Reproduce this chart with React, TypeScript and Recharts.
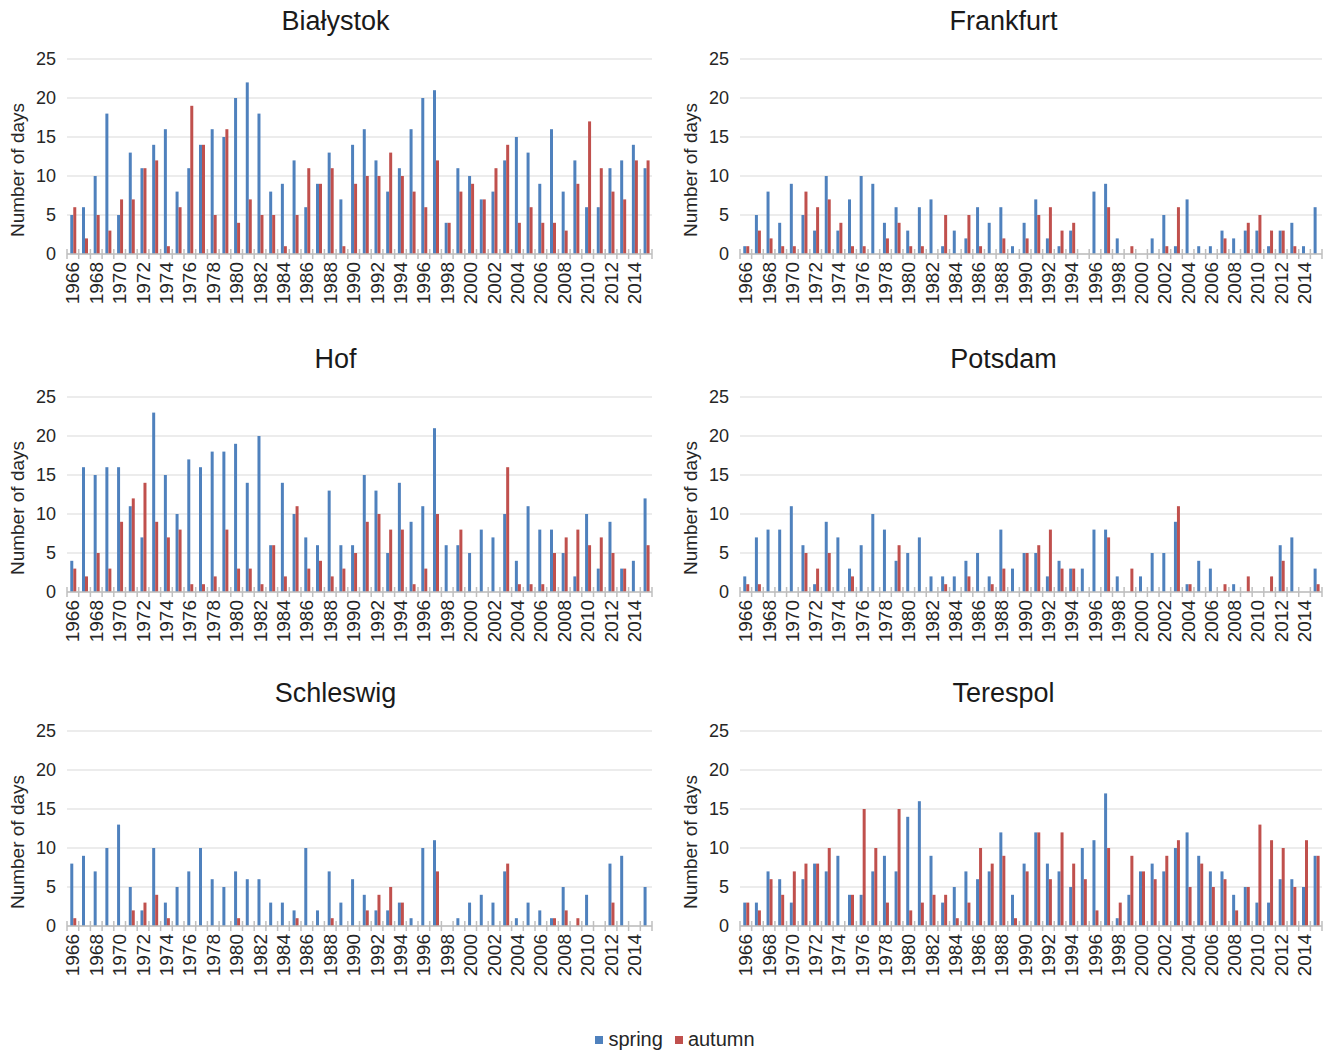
import { BarChart, Bar, XAxis, YAxis, CartesianGrid } from 'recharts';

const years = [
  1966, 1967, 1968, 1969, 1970, 1971, 1972, 1973, 1974, 1975,
  1976, 1977, 1978, 1979, 1980, 1981, 1982, 1983, 1984, 1985,
  1986, 1987, 1988, 1989, 1990, 1991, 1992, 1993, 1994, 1995,
  1996, 1997, 1998, 1999, 2000, 2001, 2002, 2003, 2004, 2005,
  2006, 2007, 2008, 2009, 2010, 2011, 2012, 2013, 2014, 2015,
];
const yTicks = [0, 5, 10, 15, 20, 25];

const bialystokSpring = [5, 6, 10, 18, 5, 13, 11, 14, 16, 8, 11, 14, 16, 15, 20, 22, 18, 8, 9, 12, 6, 9, 13, 7, 14, 16, 12, 8, 11, 16, 20, 21, 4, 11, 10, 7, 8, 12, 15, 13, 9, 16, 8, 12, 6, 6, 11, 12, 14, 11];
const bialystokAutumn = [6, 2, 5, 3, 7, 7, 11, 12, 1, 6, 19, 14, 5, 16, 4, 7, 5, 5, 1, 5, 11, 9, 11, 1, 9, 10, 10, 13, 10, 8, 6, 12, 4, 8, 9, 7, 11, 14, 4, 6, 4, 4, 3, 9, 17, 11, 8, 7, 12, 12];

const frankfurtSpring = [1, 5, 8, 4, 9, 5, 3, 10, 3, 7, 10, 9, 4, 6, 3, 6, 7, 1, 3, 2, 6, 4, 6, 1, 4, 7, 2, 1, 3, 0, 8, 9, 2, 0, 0, 2, 5, 1, 7, 1, 1, 3, 2, 3, 3, 1, 3, 4, 1, 6];
const frankfurtAutumn = [1, 3, 2, 1, 1, 8, 6, 7, 4, 1, 1, 0, 2, 4, 1, 1, 0, 5, 0, 5, 1, 0, 2, 0, 2, 5, 6, 3, 4, 0, 0, 6, 0, 1, 0, 0, 1, 6, 0, 0, 0, 2, 0, 4, 5, 3, 3, 1, 0, 0];

const hofSpring = [4, 16, 15, 16, 16, 11, 7, 23, 15, 10, 17, 16, 18, 18, 19, 14, 20, 6, 14, 10, 7, 6, 13, 6, 6, 15, 13, 5, 14, 9, 11, 21, 6, 6, 5, 8, 7, 10, 4, 11, 8, 8, 5, 2, 10, 3, 9, 3, 4, 12];
const hofAutumn = [3, 2, 5, 3, 9, 12, 14, 9, 7, 8, 1, 1, 2, 8, 3, 3, 1, 6, 2, 11, 3, 4, 2, 3, 5, 9, 10, 8, 8, 1, 3, 10, 0, 8, 0, 0, 0, 16, 1, 1, 1, 5, 7, 8, 6, 7, 5, 3, 0, 6];

const potsdamSpring = [2, 7, 8, 8, 11, 6, 1, 9, 7, 3, 6, 10, 8, 4, 5, 7, 2, 2, 2, 4, 5, 2, 8, 3, 5, 5, 2, 4, 3, 3, 8, 8, 2, 0, 2, 5, 5, 9, 1, 4, 3, 0, 1, 0, 0, 0, 6, 7, 0, 3];
const potsdamAutumn = [1, 1, 0, 0, 0, 5, 3, 5, 0, 2, 0, 0, 0, 6, 0, 0, 0, 1, 0, 2, 0, 1, 3, 0, 5, 6, 8, 3, 3, 0, 0, 7, 0, 3, 0, 0, 0, 11, 1, 0, 0, 1, 0, 2, 0, 2, 4, 0, 0, 1];

const schleswigSpring = [8, 9, 7, 10, 13, 5, 2, 10, 3, 5, 7, 10, 6, 5, 7, 6, 6, 3, 3, 2, 10, 2, 7, 3, 6, 4, 2, 2, 3, 1, 10, 11, 0, 1, 3, 4, 3, 7, 1, 3, 2, 1, 5, 0, 4, 0, 8, 9, 0, 5];
const schleswigAutumn = [1, 0, 0, 0, 0, 2, 3, 4, 1, 0, 0, 0, 0, 0, 1, 0, 0, 0, 0, 1, 0, 0, 1, 0, 0, 2, 4, 5, 3, 0, 0, 7, 0, 0, 0, 0, 0, 8, 0, 0, 0, 1, 2, 1, 0, 0, 3, 0, 0, 0];

const terespolSpring = [3, 3, 7, 6, 3, 6, 8, 7, 9, 4, 4, 7, 9, 7, 14, 16, 9, 3, 5, 7, 6, 7, 12, 4, 8, 12, 8, 7, 5, 10, 11, 17, 1, 4, 7, 8, 7, 10, 12, 9, 7, 7, 4, 5, 3, 3, 6, 6, 5, 9];
const terespolAutumn = [3, 2, 6, 4, 7, 8, 8, 10, 0, 4, 15, 10, 3, 15, 2, 3, 4, 4, 1, 3, 10, 8, 9, 1, 7, 12, 6, 12, 8, 6, 2, 10, 3, 9, 7, 6, 9, 11, 5, 8, 5, 6, 2, 5, 13, 11, 10, 5, 11, 9];

const BLUE = '#4F81BD';
const RED = '#C0504D';
const FONT = '"Liberation Sans", Arial, sans-serif';

const CHART_H = 330;
const AXIS_W = 67;

function YearTick(props: any) {
  const { x, y, payload, index, step } = props;
  const bx = x - step / 2;
  return (
    <g>
      <line x1={bx} y1={y - 5} x2={bx} y2={y + 5} stroke="#bfbfbf" strokeWidth={1.5} />
      {index === years.length - 1 && (
        <line x1={x + step / 2} y1={y - 5} x2={x + step / 2} y2={y + 5} stroke="#bfbfbf" strokeWidth={1.5} />
      )}
      {index % 2 === 0 && (
        <text
          x={0}
          y={0}
          transform={`translate(${x},${y + 8}) rotate(-90)`}
          textAnchor="end"
          dominantBaseline="central"
          fontSize={19}
          fontFamily={FONT}
          fill="#262626"
        >
          {payload.value}
        </text>
      )}
    </g>
  );
}

function YLabel() {
  return (
    <text
      x={0}
      y={0}
      transform="translate(17,170) rotate(-90)"
      textAnchor="middle"
      dominantBaseline="central"
      fontSize={19}
      fontFamily={FONT}
      fill="#262626"
    >
      Number of days
    </text>
  );
}

function Panel({ title, spring, autumn, left, top, width, marginRight }: any) {
  const data = years.map((y, i) => ({ year: y, spring: spring[i], autumn: autumn[i] }));
  const step = (width - AXIS_W - marginRight) / years.length;
  return (
    <div style={{ position: 'absolute', left, top, width, height: CHART_H }}>
      <div
        style={{
          position: 'absolute',
          left: 0,
          top: 6,
          width: width + 8,
          textAlign: 'center',
          fontFamily: FONT,
          fontSize: 27,
          color: '#1a1a1a',
        }}
      >
        {title}
      </div>
      <BarChart
        width={width}
        height={CHART_H}
        data={data}
        margin={{ top: 59, right: marginRight, bottom: 16, left: 0 }}
        barCategoryGap="28%"
        barGap={0}
      >
        <CartesianGrid vertical={false} stroke="#d9d9d9" strokeWidth={1.2} />
        <XAxis
          dataKey="year"
          interval={0}
          height={60}
          tickSize={0}
          tickMargin={0}
          tickLine={false}
          axisLine={{ stroke: '#bfbfbf', strokeWidth: 1.5 }}
          tick={(p: any) => <YearTick {...p} step={step} />}
        />
        <YAxis
          domain={[0, 25]}
          ticks={yTicks}
          width={AXIS_W}
          axisLine={false}
          tickLine={false}
          tickSize={0}
          tickMargin={11}
          tick={{ fontSize: 18, fill: '#262626', fontFamily: FONT }}
          label={<YLabel />}
        />
        <Bar dataKey="spring" fill={BLUE} isAnimationActive={false} />
        <Bar dataKey="autumn" fill={RED} isAnimationActive={false} />
      </BarChart>
    </div>
  );
}

export default function App() {
  const L = { left: 0, width: 663, marginRight: 11 };
  const R = { left: 673, width: 653, marginRight: 4 };
  return (
    <div style={{ position: 'absolute', left: 0, top: 0, width: 1326, height: 1054, background: '#fff' }}>
      <Panel title="Białystok" spring={bialystokSpring} autumn={bialystokAutumn} top={0} {...L} />
      <Panel title="Frankfurt" spring={frankfurtSpring} autumn={frankfurtAutumn} top={0} {...R} />
      <Panel title="Hof" spring={hofSpring} autumn={hofAutumn} top={338} {...L} />
      <Panel title="Potsdam" spring={potsdamSpring} autumn={potsdamAutumn} top={338} {...R} />
      <Panel title="Schleswig" spring={schleswigSpring} autumn={schleswigAutumn} top={672} {...L} />
      <Panel title="Terespol" spring={terespolSpring} autumn={terespolAutumn} top={672} {...R} />
      <div
        style={{
          position: 'absolute',
          top: 1028,
          left: 0,
          width: 1326,
          display: 'flex',
          justifyContent: 'center',
          gap: 12,
          fontFamily: FONT,
          fontSize: 20,
          color: '#262626',
        }}
      >
        <span style={{ display: 'flex', alignItems: 'center' }}>
          <span style={{ width: 8, height: 8, background: BLUE, marginRight: 5, marginLeft: 24 }} />
          spring
        </span>
        <span style={{ display: 'flex', alignItems: 'center' }}>
          <span style={{ width: 8, height: 8, background: RED, marginRight: 5 }} />
          autumn
        </span>
      </div>
    </div>
  );
}
